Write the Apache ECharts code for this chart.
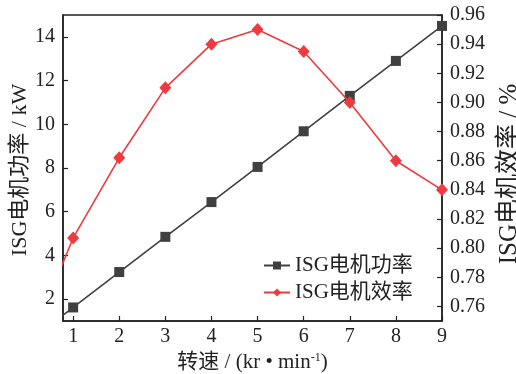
<!DOCTYPE html>
<html>
<head>
<meta charset="utf-8">
<script src="https://cdn.jsdelivr.net/npm/echarts@6/dist/echarts.min.js"></script>
<style>
  html, body { margin: 0; padding: 0; background: #fff; }
  #chart { width: 516px; height: 374px; }
</style>
</head>
<body>
<div id="chart"></div>
<script>
// Motor speed (kr/min); the 0 point lies left of the visible range and is clipped
const speed = [0, 1, 2, 3, 4, 5, 6, 7, 8, 9];
// ISG motor power, kW
const power = [0, 1.62, 3.24, 4.85, 6.44, 8.05, 9.68, 11.3, 12.9, 14.5];
// ISG motor efficiency
const efficiency = [0.73, 0.807, 0.862, 0.910, 0.940, 0.950, 0.935, 0.900, 0.860, 0.840];

const xTicks = [1, 2, 3, 4, 5, 6, 7, 8, 9];
const powerTicks = [2, 4, 6, 8, 10, 12, 14];
const effTicks = [0.76, 0.78, 0.80, 0.82, 0.84, 0.86, 0.88, 0.90, 0.92, 0.94, 0.96];

const serif = '"Liberation Serif", "Noto Sans CJK SC", serif';
const ink = '#222';
const grayColor = '#404040';
const redColor = '#ee3a40';

const chart = echarts.init(document.getElementById('chart'), null, { renderer: 'canvas' });

function pairs(xs, ys) { return xs.map((x, i) => [x, ys[i]]); }

chart.setOption({
  animation: false,
  backgroundColor: '#fff',
  grid: {
    left: 63, right: 74, top: 15, bottom: 53,
    outerBoundsMode: 'none',
    containLabel: false,
    show: true, borderColor: ink, borderWidth: 1.5, backgroundColor: 'transparent'
  },
  legend: {
    orient: 'vertical',
    left: 258, top: 250,
    itemWidth: 26, itemHeight: 10, itemGap: 6,
    textStyle: { fontFamily: serif, fontSize: 21, color: ink },
    data: ['ISG电机功率', 'ISG电机效率']
  },
  xAxis: {
    type: 'value',
    min: 0.78, max: 9,
    axisLine: { show: true, lineStyle: { color: ink, width: 1.5 } },
    axisTick: { show: true, inside: true, length: 5, lineStyle: { color: ink, width: 1.2 }, customValues: xTicks },
    axisLabel: { color: ink, fontFamily: serif, fontSize: 20, margin: 6, customValues: xTicks },
    splitLine: { show: false },
    name: '{t|转速 / (kr • min}{s|-1}{t|)}',
    nameLocation: 'middle',
    nameGap: 28,
    nameTextStyle: {
      rich: {
        t: { fontFamily: serif, fontSize: 21, color: ink },
        s: { fontFamily: serif, fontSize: 12, color: ink, padding: [0, 0, 10, 0] }
      }
    }
  },
  yAxis: [
    {
      type: 'value',
      min: 1, max: 15,
      position: 'left',
      axisLine: { show: true, lineStyle: { color: ink, width: 1.5 } },
      axisTick: { show: true, inside: true, length: 5, lineStyle: { color: ink, width: 1.2 }, customValues: powerTicks },
      axisLabel: { color: ink, fontFamily: serif, fontSize: 20, margin: 8, customValues: powerTicks },
      splitLine: { show: false },
      name: 'ISG电机功率 / kW',
      nameLocation: 'middle',
      nameGap: 32,
      nameMoveOverlap: false,
      nameTextStyle: { fontFamily: serif, fontSize: 22, color: ink, padding: [0, 4, 0, 0] }
    },
    {
      type: 'value',
      min: 0.75, max: 0.96,
      position: 'right',
      axisLine: { show: true, lineStyle: { color: ink, width: 1.5 } },
      axisTick: { show: true, inside: true, length: 5, lineStyle: { color: ink, width: 1.2 }, customValues: effTicks },
      axisLabel: {
        color: ink, fontFamily: serif, fontSize: 20, margin: 8, customValues: effTicks,
        formatter: v => v.toFixed(2)
      },
      splitLine: { show: false },
      name: 'ISG电机效率 / %',
      nameLocation: 'middle',
      nameGap: 55,
      nameTextStyle: { fontFamily: serif, fontSize: 25, color: ink, padding: [0, 12, 0, 0] }
    }
  ],
  series: [
    {
      name: 'ISG电机功率',
      type: 'line',
      yAxisIndex: 0,
      data: pairs(speed, power),
      clip: true,
      symbol: 'rect',
      symbolSize: 10,
      lineStyle: { color: grayColor, width: 1.6 },
      itemStyle: { color: grayColor },
      z: 3
    },
    {
      name: 'ISG电机效率',
      type: 'line',
      yAxisIndex: 1,
      data: pairs(speed, efficiency),
      clip: true,
      symbol: 'diamond',
      symbolSize: [12, 13],
      lineStyle: { color: redColor, width: 1.6 },
      itemStyle: { color: redColor },
      z: 4
    }
  ]
});
</script>
</body>
</html>
